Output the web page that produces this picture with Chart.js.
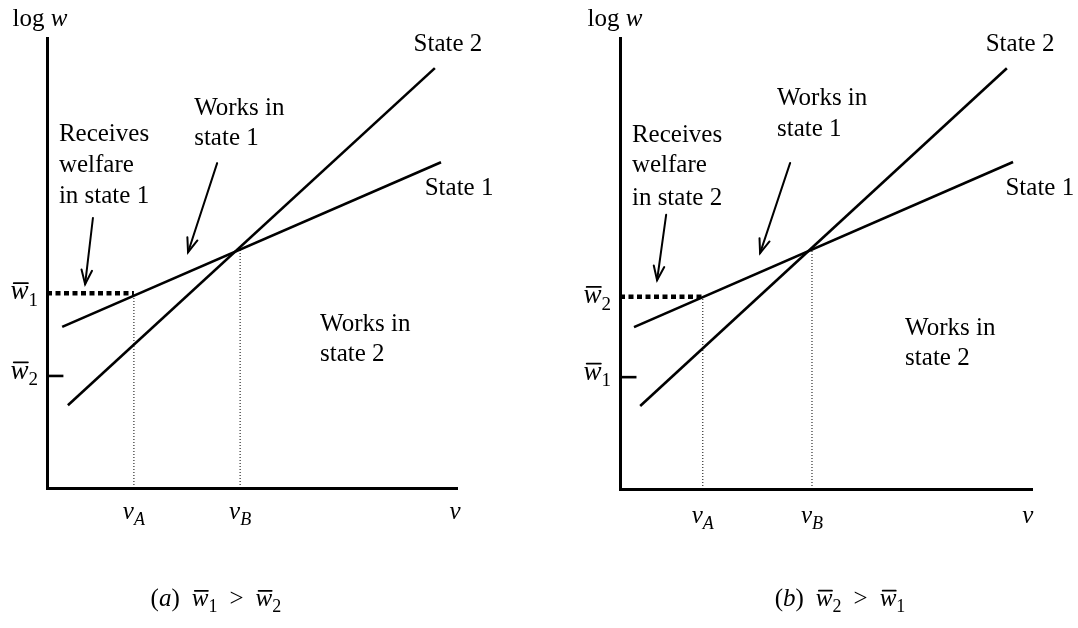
<!DOCTYPE html>
<html><head><meta charset="utf-8">
<script src="https://cdn.jsdelivr.net/npm/chart.js@4.4.0/dist/chart.umd.min.js"></script>
<style>
html,body{margin:0;padding:0;background:#fff;}
#wrap{position:relative;width:1078px;height:628px;overflow:hidden;}
canvas{position:absolute;top:0;}
</style></head><body>
<div id="wrap">
<canvas id="ca" width="539" height="628" style="left:0"></canvas>
<canvas id="cb" width="539" height="628" style="left:539px"></canvas>
</div>
<script>
// ---------- values (arbitrary units, axes 0..10) ----------
// Panel (a)
const state1X_a = [0.37, 9.61], state1Y_a = [3.58, 7.24];
const state2X_a = [0.51, 9.46], state2Y_a = [1.84, 9.33];
const vA_a = 2.12, vB_a = 4.71, crossY_a = 5.33;
const wHigh_a = 4.33, wLow_a = 2.49;
// Panel (b)
const state1X_b = [0.34, 9.54], state1Y_b = [3.59, 7.25];
const state2X_b = [0.49, 9.39], state2Y_b = [1.84, 9.33];
const vA_b = 2.01, vB_b = 4.66, crossY_b = 5.28;
const wHigh_b = 4.26, wLow_b = 2.48;

const FONT = '"Liberation Serif", "Times New Roman", serif';
const FS = 25;

// rich text segments
const T = (t) => ({t});
const I = (t) => ({t, it:true});
const S = (t) => ({t, sub:true});
const SI = (t) => ({t, sub:true, it:true});
const B = (t) => ({t, it:true, bar:true});
const G = (n) => ({t:'', gap:n});

function fontFor(s, fs){ const size = s.sub ? Math.round(fs*0.7) : fs; return (s.it?'italic ':'') + size + 'px ' + FONT; }
function segW(ctx, s, fs){ if (s.gap) return s.gap; ctx.font = fontFor(s, fs); return ctx.measureText(s.t).width; }
function drawRich(ctx, segs, x, y, align, fs){
  let w = 0;
  for (const s of segs) w += segW(ctx, s, fs);
  let cx = align==='center' ? x - w/2 : align==='right' ? x - w : x;
  ctx.textAlign = 'left'; ctx.textBaseline = 'alphabetic';
  for (const s of segs){
    const sw = segW(ctx, s, fs);
    if (!s.gap){
      ctx.font = fontFor(s, fs);
      const by = s.sub ? y + fs*0.24 : y;
      ctx.fillText(s.t, cx, by);
      if (s.bar){
        ctx.beginPath(); ctx.lineWidth = 1.7; ctx.strokeStyle = '#000';
        ctx.moveTo(cx + fs*0.12, y - fs*0.6); ctx.lineTo(cx + sw - fs*0.02, y - fs*0.6); ctx.stroke();
      }
    }
    cx += sw;
  }
}

const annotPlugin = {
  id: 'annot',
  afterDraw(chart, args, opts){
    const ctx = chart.ctx, xs = chart.scales.x, ys = chart.scales.y;
    ctx.save();
    ctx.fillStyle = '#000'; ctx.strokeStyle = '#000';
    for (const a of (opts.arrows||[])){
      const x0 = xs.getPixelForValue(a[0]), y0 = ys.getPixelForValue(a[1]);
      const x1 = xs.getPixelForValue(a[2]), y1 = ys.getPixelForValue(a[3]);
      ctx.lineWidth = 2; ctx.lineCap = 'round';
      ctx.beginPath(); ctx.moveTo(x0,y0); ctx.lineTo(x1,y1); ctx.stroke();
      const ang = Math.atan2(y1-y0, x1-x0), L = 15, h = 0.36;
      ctx.beginPath();
      ctx.moveTo(x1 - L*Math.cos(ang-h), y1 - L*Math.sin(ang-h));
      ctx.lineTo(x1, y1);
      ctx.lineTo(x1 - L*Math.cos(ang+h), y1 - L*Math.sin(ang+h));
      ctx.stroke();
    }
    for (const l of (opts.labels||[])){
      const fs = l.fs || FS;
      const px = xs.getPixelForValue(l.x), py = ys.getPixelForValue(l.y);
      const base = py + (l.mode==='x' ? fs*0.23 : fs*0.33);
      drawRich(ctx, l.segs, px, base, l.align||'left', fs);
    }
    ctx.restore();
  }
};

function makeChart(id, p, pad, labels, arrows){
  const line = (data, o) => Object.assign({data, showLine:true, borderColor:'#000', borderWidth:2.6,
    pointRadius:0, fill:false, tension:0, clip:false, borderCapStyle:'butt'}, o||{});
  const pts = (xs, ys) => xs.map((x,i)=>({x, y:ys[i]}));
  const datasets = [
    line(pts(p.s1X, p.s1Y)),
    line(pts(p.s2X, p.s2Y)),
    line([{x:0,y:p.wHigh},{x:p.vA,y:p.wHigh}], {borderWidth:4.5, borderDash:[5,3.5]}),
    line([{x:p.vA,y:0},{x:p.vA,y:p.wHigh}], {borderWidth:1, borderDash:[1,2]}),
    line([{x:p.vB,y:0},{x:p.vB,y:p.crossY}], {borderWidth:1, borderDash:[1,2]}),
    line([{x:0,y:p.wLow},{x:0.4,y:p.wLow}], {borderWidth:2.6}),
  ];
  const axis = {type:'linear', min:0, max:10, display:true,
    grid:{display:false, drawTicks:false}, ticks:{display:false},
    border:{display:true, color:'#000', width:3}};
  return new Chart(document.getElementById(id), {
    type:'scatter',
    data:{datasets},
    options:{
      responsive:false, animation:false, devicePixelRatio:1,
      layout:{padding:pad, autoPadding:false},
      scales:{x:Object.assign({}, axis), y:Object.assign({}, axis)},
      plugins:{legend:{display:false}, tooltip:{enabled:false},
        annot:{labels, arrows}}
    },
    plugins:[annotPlugin]
  });
}

const labelsA = [
  {segs:[T('log '), I('w')], x:-0.17, y:10.44, align:'center'},
  {segs:[T('State 2')], x:9.78, y:9.89, align:'center'},
  {segs:[T('State 1')], x:10.05, y:6.69, align:'center'},
  {segs:[T('Works in')], x:3.59, y:8.47},
  {segs:[T('state 1')], x:3.59, y:7.80},
  {segs:[T('Receives')], x:0.29, y:7.89},
  {segs:[T('welfare')], x:0.29, y:7.20},
  {segs:[T('in state 1')], x:0.29, y:6.51},
  {segs:[T('Works in')], x:6.66, y:3.67},
  {segs:[T('state 2')], x:6.66, y:3.00},
  {segs:[B('w'), S('1')], x:-0.22, y:wHigh_a, align:'right', mode:'x', fs:27},
  {segs:[B('w'), S('2')], x:-0.22, y:wLow_a + 0.08, align:'right', mode:'x', fs:27},
  {segs:[I('v'), SI('A')], x:vA_a, y:-0.56, align:'center', mode:'x'},
  {segs:[I('v'), SI('B')], x:vB_a, y:-0.56, align:'center', mode:'x'},
  {segs:[I('v')], x:9.95, y:-0.56, align:'center', mode:'x'},
  {segs:[T('('), I('a'), T(')'), G(12), B('w'), S('1'), G(12), T('>'), G(12), B('w'), S('2')], x:4.12, y:-2.49, align:'center', mode:'x'},
];
const arrowsA = [[1.12, 6.0, 0.93, 4.53], [4.15, 7.22, 3.44, 5.24]];

const labelsB = [
  {segs:[T('log '), I('w')], x:-0.12, y:10.44, align:'center'},
  {segs:[T('State 2')], x:9.71, y:9.89, align:'center'},
  {segs:[T('State 1')], x:10.19, y:6.70, align:'center'},
  {segs:[T('Works in')], x:3.81, y:8.69},
  {segs:[T('state 1')], x:3.81, y:8.00},
  {segs:[T('Receives')], x:0.29, y:7.87},
  {segs:[T('welfare')], x:0.29, y:7.21},
  {segs:[T('in state 2')], x:0.29, y:6.49},
  {segs:[T('Works in')], x:6.92, y:3.59},
  {segs:[T('state 2')], x:6.92, y:2.93},
  {segs:[B('w'), S('2')], x:-0.22, y:wHigh_b, align:'right', mode:'x', fs:27},
  {segs:[B('w'), S('1')], x:-0.22, y:wLow_b + 0.08, align:'right', mode:'x', fs:27},
  {segs:[I('v'), SI('A')], x:vA_b, y:-0.62, align:'center', mode:'x'},
  {segs:[I('v'), SI('B')], x:vB_b, y:-0.62, align:'center', mode:'x'},
  {segs:[I('v')], x:9.9, y:-0.62, align:'center', mode:'x'},
  {segs:[T('('), I('b'), T(')'), G(12), B('w'), S('2'), G(12), T('>'), G(12), B('w'), S('1')], x:5.34, y:-2.46, align:'center', mode:'x'},
];
const arrowsB = [[1.12, 6.08, 0.90, 4.63], [4.13, 7.23, 3.40, 5.23]];

makeChart('ca', {s1X:state1X_a, s1Y:state1Y_a, s2X:state2X_a, s2Y:state2Y_a, vA:vA_a, vB:vB_a, crossY:crossY_a, wHigh:wHigh_a, wLow:wLow_a},
  {left:47, right:82, top:38, bottom:140}, labelsA, arrowsA);
makeChart('cb', {s1X:state1X_b, s1Y:state1Y_b, s2X:state2X_b, s2Y:state2Y_b, vA:vA_b, vB:vB_b, crossY:crossY_b, wHigh:wHigh_b, wLow:wLow_b},
  {left:81, right:46, top:38, bottom:139}, labelsB, arrowsB);
</script>
</body></html>
